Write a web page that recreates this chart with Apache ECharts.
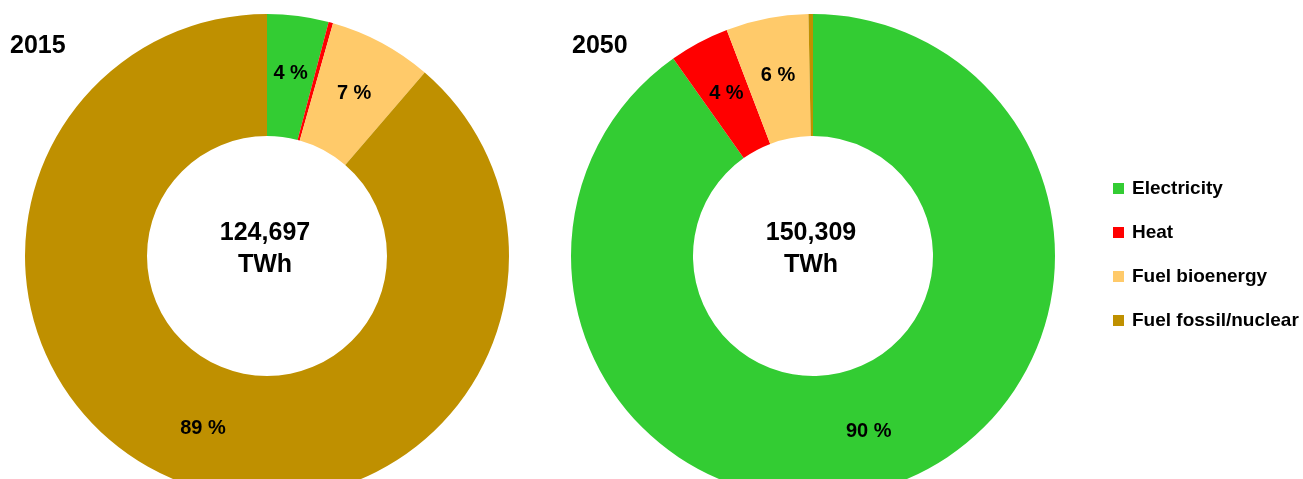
<!DOCTYPE html>
<html>
<head>
<meta charset="utf-8">
<script src="https://cdn.jsdelivr.net/npm/echarts@6/dist/echarts.min.js"></script>
<style>
html,body{margin:0;padding:0;background:#fff;}
#chart{width:1303px;height:479px;}
</style>
</head>
<body>
<div id="chart"></div>
<script>
const categories = ['Electricity', 'Heat', 'Fuel bioenergy', 'Fuel fossil/nuclear'];
const years = ['2015', '2050'];
const values2015 = [4.1, 0.3, 6.9, 88.7];
const values2050 = [90.2, 4.0, 5.5, 0.3];
const totals = ['124,697', '150,309'];
const unit = 'TWh';
const colors = ['#33CC33', '#FF0000', '#FFCA6A', '#BF9000'];

const FONT = "'Liberation Sans', Arial, sans-serif";
const centers = [['267px', '256px'], ['813px', '256px']];
const allValues = [values2015, values2050];

const chart = echarts.init(document.getElementById('chart'), null, {renderer: 'canvas'});

const series = allValues.map((vals, i) => ({
  type: 'pie',
  name: years[i],
  center: centers[i],
  radius: ['120px', '242px'],
  startAngle: 90,
  clockwise: true,
  avoidLabelOverlap: false,
  silent: true,
  itemStyle: {borderWidth: 0},
  label: {
    show: true,
    position: 'inside',
    fontFamily: FONT,
    fontWeight: 'bold',
    fontSize: 20,
    color: '#000',
    formatter: p => p.percent < 1 ? '' : Math.round(p.value) + ' %'
  },
  labelLine: {show: false},
  data: categories.map((c, k) => ({name: c, value: vals[k]}))
}));

const titles = [];
years.forEach((y, i) => {
  titles.push({
    text: y,
    left: i === 0 ? 10 : 572,
    top: 34,
    padding: 0,
    textStyle: {fontFamily: FONT, fontWeight: 'bold', fontSize: 25, color: '#000'}
  });
  titles.push({
    text: totals[i] + '\n' + unit,
    left: parseInt(centers[i][0]) - 2,
    top: 217,
    padding: 0,
    textAlign: 'center',
    textStyle: {fontFamily: FONT, fontWeight: 'bold', fontSize: 25, color: '#000', lineHeight: 32}
  });
});

chart.setOption({
  animation: false,
  color: colors,
  title: titles,
  legend: {
    orient: 'vertical',
    left: 1113,
    top: 179,
    padding: 0,
    itemWidth: 11,
    itemHeight: 11,
    itemGap: 25,
    icon: 'rect',
    textStyle: {fontFamily: FONT, fontWeight: 'bold', fontSize: 19, color: '#000', padding: [0, 0, 0, 3]},
    data: categories
  },
  series: series
});
</script>
</body>
</html>
